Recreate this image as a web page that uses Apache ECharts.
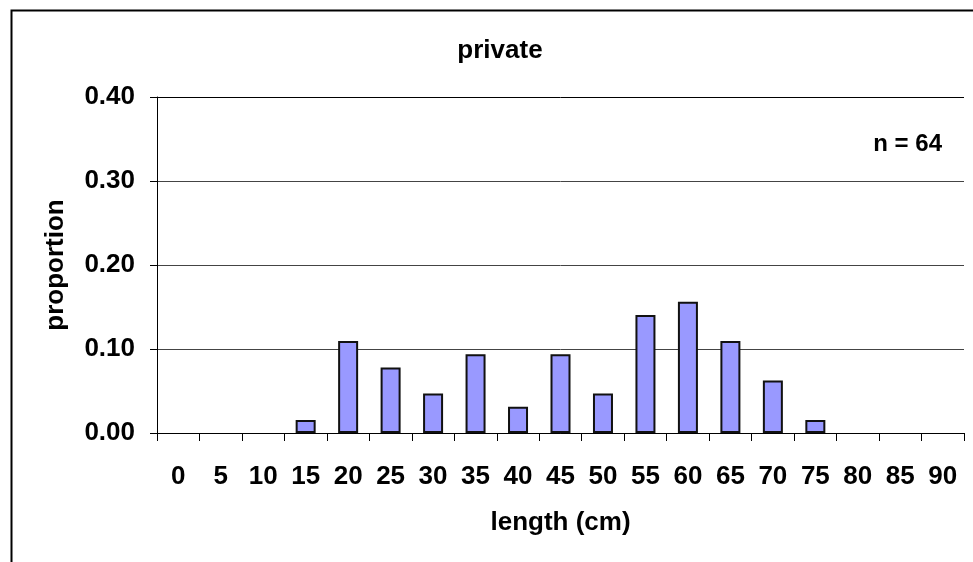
<!DOCTYPE html>
<html>
<head>
<meta charset="utf-8">
<script src="https://cdn.jsdelivr.net/npm/echarts@6/dist/echarts.min.js"></script>
<style>html,body{margin:0;padding:0;background:#fff;}#c{width:973px;height:562px;}</style>
</head>
<body>
<div id="c"></div>
<script>
var categories = ['0','5','10','15','20','25','30','35','40','45','50','55','60','65','70','75','80','85','90'];
var proportions = [0, 0, 0, 0.0156, 0.1094, 0.0781, 0.0469, 0.0938, 0.0313, 0.0938, 0.0469, 0.1406, 0.1563, 0.1094, 0.0625, 0.0156, 0, 0, 0];
var yTicks = [0, 0.1, 0.2, 0.3, 0.4];
var titleText = 'private';
var noteText = 'n = 64';

var chart = echarts.init(document.getElementById('c'), null, {renderer: 'canvas'});
var font = 'Liberation Sans, Arial, sans-serif';
var barData = proportions.map(function (v) {
  return v === 0 ? {value: v, itemStyle: {borderWidth: 0}} : v;
});
chart.setOption({
  animation: false,
  backgroundColor: '#fff',
  graphic: [{
    type: 'rect', left: 9, top: 8,
    shape: {width: 980, height: 570},
    style: {fill: 'none', stroke: '#000', lineWidth: 2}
  }],
  title: [{
    text: titleText, left: 495, top: 33, textAlign: 'center',
    textStyle: {fontFamily: font, fontWeight: 'bold', fontSize: 26, color: '#000'}
  }, {
    text: noteText, right: 26, top: 127,
    textStyle: {fontFamily: font, fontWeight: 'bold', fontSize: 24, color: '#000'}
  }],
  grid: {left: 157, right: 9, top: 97, bottom: 129, containLabel: false},
  xAxis: {
    type: 'category', data: categories,
    name: 'length (cm)', nameLocation: 'middle', nameGap: 77,
    nameTextStyle: {fontFamily: font, fontWeight: 'bold', fontSize: 26, color: '#000'},
    axisLine: {lineStyle: {color: '#000', width: 1}},
    axisTick: {show: true, alignWithLabel: false, length: 8, lineStyle: {color: '#000'}},
    axisLabel: {fontFamily: font, fontWeight: 'bold', fontSize: 26, color: '#000', margin: 31, interval: 0},
    splitLine: {show: false}
  },
  yAxis: {
    type: 'value', min: yTicks[0], max: yTicks[yTicks.length - 1], interval: 0.1,
    name: 'proportion', nameLocation: 'middle', nameGap: 88, nameRotate: 90,
    nameTextStyle: {fontFamily: font, fontWeight: 'bold', fontSize: 26, color: '#000'},
    axisLine: {show: true, lineStyle: {color: '#000', width: 1}},
    axisTick: {show: true, length: 7, lineStyle: {color: '#000'}},
    axisLabel: {fontFamily: font, fontWeight: 'bold', fontSize: 26, color: '#000', margin: 22,
      formatter: function (v) { return v.toFixed(2); }},
    splitLine: {show: true, lineStyle: {color: ['#000', '#444', '#444', '#444', '#000'], width: 1}}
  },
  series: [{
    type: 'bar', data: barData, barWidth: 20,
    itemStyle: {color: '#9999FF', borderColor: '#111', borderWidth: 2}
  }]
});
</script>
</body>
</html>
